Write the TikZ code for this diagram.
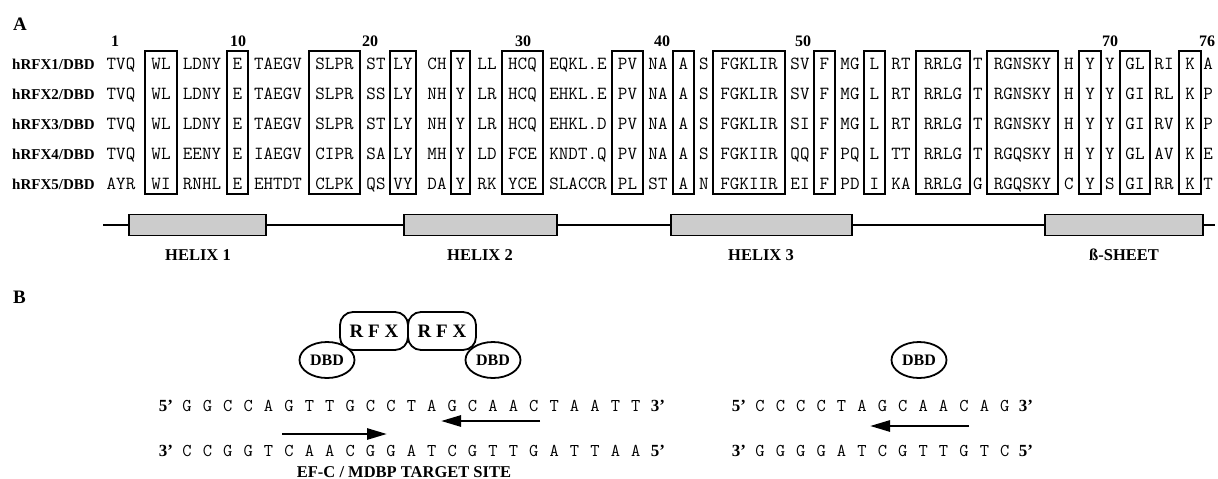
\documentclass[tikz,border=0pt]{standalone}
\usepackage{fontspec}
\setmainfont{Liberation Serif}
\usetikzlibrary{arrows.meta,shapes.geometric}
\tikzset{
  rowlbl/.style={font=\fontsize{15}{15}\selectfont\bfseries, anchor=base west, inner sep=0},
  seq/.style={font=\fontsize{18.5}{18.5}\selectfont\ttfamily, anchor=base, inner sep=0},
  num/.style={font=\fontsize{16}{16}\selectfont\bfseries, anchor=base, inner sep=0},
  panel/.style={font=\fontsize{19}{19}\selectfont\bfseries, anchor=base west, inner sep=0},
  colbox/.style={draw, line width=1.7pt},
  helixbox/.style={draw, line width=1.4pt, fill=black!20},
  helixlbl/.style={font=\fontsize{16.5}{16.5}\selectfont\bfseries, anchor=base, inner sep=0},
  sitelbl/.style={font=\fontsize{16.5}{16.5}\selectfont\bfseries, anchor=base, inner sep=0},
  rfx/.style={draw, line width=1.8pt, fill=white, rounded corners=13pt, minimum width=68pt, minimum height=38pt, inner sep=0, font=\fontsize{19}{19}\selectfont\bfseries},
  dbd/.style={draw, ellipse, line width=1.8pt, fill=white, minimum width=55pt, minimum height=36pt, inner sep=0, font=\fontsize{16}{16}\selectfont\bfseries},
  dna/.style={font=\fontsize{18}{18}\selectfont\ttfamily, anchor=base, inner sep=0},
  end/.style={font=\fontsize{17}{17}\selectfont\bfseries, anchor=base, inner sep=0},
  dnaarrow/.style={line width=2.7pt, -{Triangle[length=20pt,width=11pt]}},
}
\begin{document}
\begin{tikzpicture}[x=1pt,y=-1pt]
\useasboundingbox (0,0) rectangle (1218,479);
% panel labels
\node[panel] (pA) at (13,30) {A};
\node[panel] (pB) at (13,303) {B};
% position numbers
\foreach \x/\t [count=\i] in {115/1,238/10,370/20,523/30,662/40,803/50,1110/70,1207/76}
  \node[num] (n\i) at (\x,46) {\t};
% row labels
\foreach \y/\t [count=\i] in {69.5/{hRFX1/DBD},99.5/{hRFX2/DBD},129.5/{hRFX3/DBD},159.5/{hRFX4/DBD},189.5/{hRFX5/DBD}}
  \node[rowlbl] (lab\i) at (12,\y) {\t};
% conserved boxes
\foreach \a/\b [count=\i] in {145/177,227/248,309/360,390/416,451/470,502/543,612/643,673/694,713/785,814/835,864/885,916/970,987/1058,1079/1101,1120/1150,1179/1201}
  \draw[colbox] (\a,51) rectangle (\b,194);
% sequences
\foreach \x/\t [count=\i] in {121/TVQ,161/WL,202/LDNY,237.5/E,278/TAEGV,334.5/SLPR,376/ST,403/LY,437/CH,460.5/Y,487/LL,522.5/HCQ,578/EQKL.E,627.5/PV,658/NA,683.5/A,704/S,749/FGKLIR,800/SV,824.5/F,850/MG,874.5/L,901/RT,943/RRLG,978/T,1022.5/RGNSKY,1069/H,1090/Y,1110/Y,1135/GL,1164/RI,1190/K,1208/A}
  \node[seq] (ra\i) at (\x,69.5) {\t};
\foreach \x/\t [count=\i] in {121/TVQ,161/WL,202/LDNY,237.5/E,278/TAEGV,334.5/SLPR,376/SS,403/LY,437/NH,460.5/Y,487/LR,522.5/HCQ,578/EHKL.E,627.5/PV,658/NA,683.5/A,704/S,749/FGKLIR,800/SV,824.5/F,850/MG,874.5/L,901/RT,943/RRLG,978/T,1022.5/RGNSKY,1069/H,1090/Y,1110/Y,1135/GI,1164/RL,1190/K,1208/P}
  \node[seq] (rb\i) at (\x,99.5) {\t};
\foreach \x/\t [count=\i] in {121/TVQ,161/WL,202/LDNY,237.5/E,278/TAEGV,334.5/SLPR,376/ST,403/LY,437/NH,460.5/Y,487/LR,522.5/HCQ,578/EHKL.D,627.5/PV,658/NA,683.5/A,704/S,749/FGKLIR,800/SI,824.5/F,850/MG,874.5/L,901/RT,943/RRLG,978/T,1022.5/RGNSKY,1069/H,1090/Y,1110/Y,1135/GI,1164/RV,1190/K,1208/P}
  \node[seq] (rc\i) at (\x,129.5) {\t};
\foreach \x/\t [count=\i] in {121/TVQ,161/WL,202/EENY,237.5/E,278/IAEGV,334.5/CIPR,376/SA,403/LY,437/MH,460.5/Y,487/LD,522.5/FCE,578/KNDT.Q,627.5/PV,658/NA,683.5/A,704/S,749/FGKIIR,800/QQ,824.5/F,850/PQ,874.5/L,901/TT,943/RRLG,978/T,1022.5/RGQSKY,1069/H,1090/Y,1110/Y,1135/GL,1164/AV,1190/K,1208/E}
  \node[seq] (rd\i) at (\x,159.5) {\t};
\foreach \x/\t [count=\i] in {121/AYR,161/WI,202/RNHL,237.5/E,278/EHTDT,334.5/CLPK,376/QS,403/VY,437/DA,460.5/Y,487/RK,522.5/YCE,578/SLACCR,627.5/PL,658/ST,683.5/A,704/N,749/FGKIIR,800/EI,824.5/F,850/PD,874.5/I,901/KA,943/RRLG,978/G,1022.5/RGQSKY,1069/C,1090/Y,1110/S,1135/GI,1164/RR,1190/K,1208/T}
  \node[seq] (re\i) at (\x,189.5) {\t};
% secondary structure bar
\coordinate (barL) at (103,225);
\coordinate (barR) at (1215,225);
\draw[line width=1.2pt] (barL) -- (barR);
\draw[helixbox] (129,214.5) rectangle (266,235.5);
\draw[helixbox] (404,214.5) rectangle (557,235.5);
\draw[helixbox] (671,214.5) rectangle (852,235.5);
\draw[helixbox] (1045,214.5) rectangle (1203,235.5);
\node[helixlbl] (h1) at (198,260) {HELIX 1};
\node[helixlbl] (h2) at (480,260) {HELIX 2};
\node[helixlbl] (h3) at (761,260) {HELIX 3};
\node[helixlbl] (h4) at (1124,260) {ß-SHEET};
% RFX dimer
\node[rfx] (rfxL) at (374,331) {R F X};
\node[rfx] (rfxR) at (442,331) {R F X};
\node[dbd] (dbdL) at (327,360) {DBD};
\node[dbd] (dbdR) at (493,360) {DBD};
\node[dbd] (dbdS) at (919,360) {DBD};
% left duplex
\node[end] (t5L) at (166,411) {5'};
\node[end] (t3L) at (658,411) {3'};
\node[end] (b3L) at (166,456) {3'};
\node[end] (b5L) at (658,456) {5'};
\foreach \t [count=\i from 0] in {G,G,C,C,A,G,T,T,G,C,C,T,A,G,C,A,A,C,T,A,A,T,T}
  \node[dna] (ta\i) at (187+20.4*\i,411) {\t};
\foreach \t [count=\i from 0] in {C,C,G,G,T,C,A,A,C,G,G,A,T,C,G,T,T,G,A,T,T,A,A}
  \node[dna] (ba\i) at (187+20.4*\i,456) {\t};
\coordinate (a1s) at (540,421);
\coordinate (a1e) at (441,421);
\draw[dnaarrow] (a1s) -- (a1e);
\coordinate (a2s) at (282,434);
\coordinate (a2e) at (387,434);
\draw[dnaarrow] (a2s) -- (a2e);
\node[sitelbl] (site) at (404,477) {EF-C / MDBP TARGET SITE};
% right duplex
\node[end] (t5R) at (739,411) {5'};
\node[end] (t3R) at (1026,411) {3'};
\node[end] (b3R) at (739,456) {3'};
\node[end] (b5R) at (1026,456) {5'};
\foreach \t [count=\i from 0] in {C,C,C,C,T,A,G,C,A,A,C,A,G}
  \node[dna] (tb\i) at (760+20.4*\i,411) {\t};
\foreach \t [count=\i from 0] in {G,G,G,G,A,T,C,G,T,T,G,T,C}
  \node[dna] (bb\i) at (760+20.4*\i,456) {\t};
\coordinate (a3s) at (969,426);
\coordinate (a3e) at (870,426);
\draw[dnaarrow] (a3s) -- (a3e);
\end{tikzpicture}
\end{document}
